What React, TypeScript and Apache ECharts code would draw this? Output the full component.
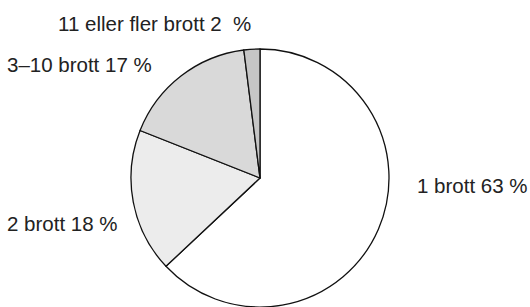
import React, { useEffect, useRef } from "react";
import * as echarts from "echarts";

const categories = ["1 brott", "2 brott", "3–10 brott", "11 eller fler brott"];
const values = [63, 18, 17, 2];
const labelSuffix = [" %", " %", " %", "  %"];
const sliceColors = ["#ffffff", "#ececec", "#d9d9d9", "#c6c6c6"];
const labelPos = [
  [417, 185],
  [7, 223],
  [7, 64],
  [58, 23],
];

export default function App() {
  const ref = useRef<HTMLDivElement>(null);
  useEffect(() => {
    if (!ref.current) return;
    const chart = echarts.init(ref.current, undefined, { renderer: "svg" });
    chart.setOption({
      animation: false,
      backgroundColor: "#ffffff",
      series: [
        {
          type: "pie",
          center: [260, 178],
          radius: 129,
          startAngle: 90,
          clockwise: true,
          silent: true,
          data: categories.map((c, i) => ({
            name: c,
            value: values[i],
            itemStyle: { color: sliceColors[i] },
            label: { formatter: "{b} {c}" + labelSuffix[i] },
          })),
          itemStyle: { borderColor: "#111", borderWidth: 1.3 },
          label: {
            show: true,
            color: "#222",
            fontSize: 20.5,
            fontFamily: "Liberation Sans, Arial, sans-serif",
            overflow: "none",
            width: 300,
          },
          labelLine: { show: false },
          labelLayout: (params: any) => {
            const p = labelPos[params.dataIndex];
            return { x: p[0], y: p[1], align: "left", verticalAlign: "middle" };
          },
        },
      ],
    });
    return () => chart.dispose();
  }, []);
  return (
    <div
      ref={ref}
      style={{ position: "absolute", left: 0, top: 0, width: 530, height: 307 }}
    />
  );
}
